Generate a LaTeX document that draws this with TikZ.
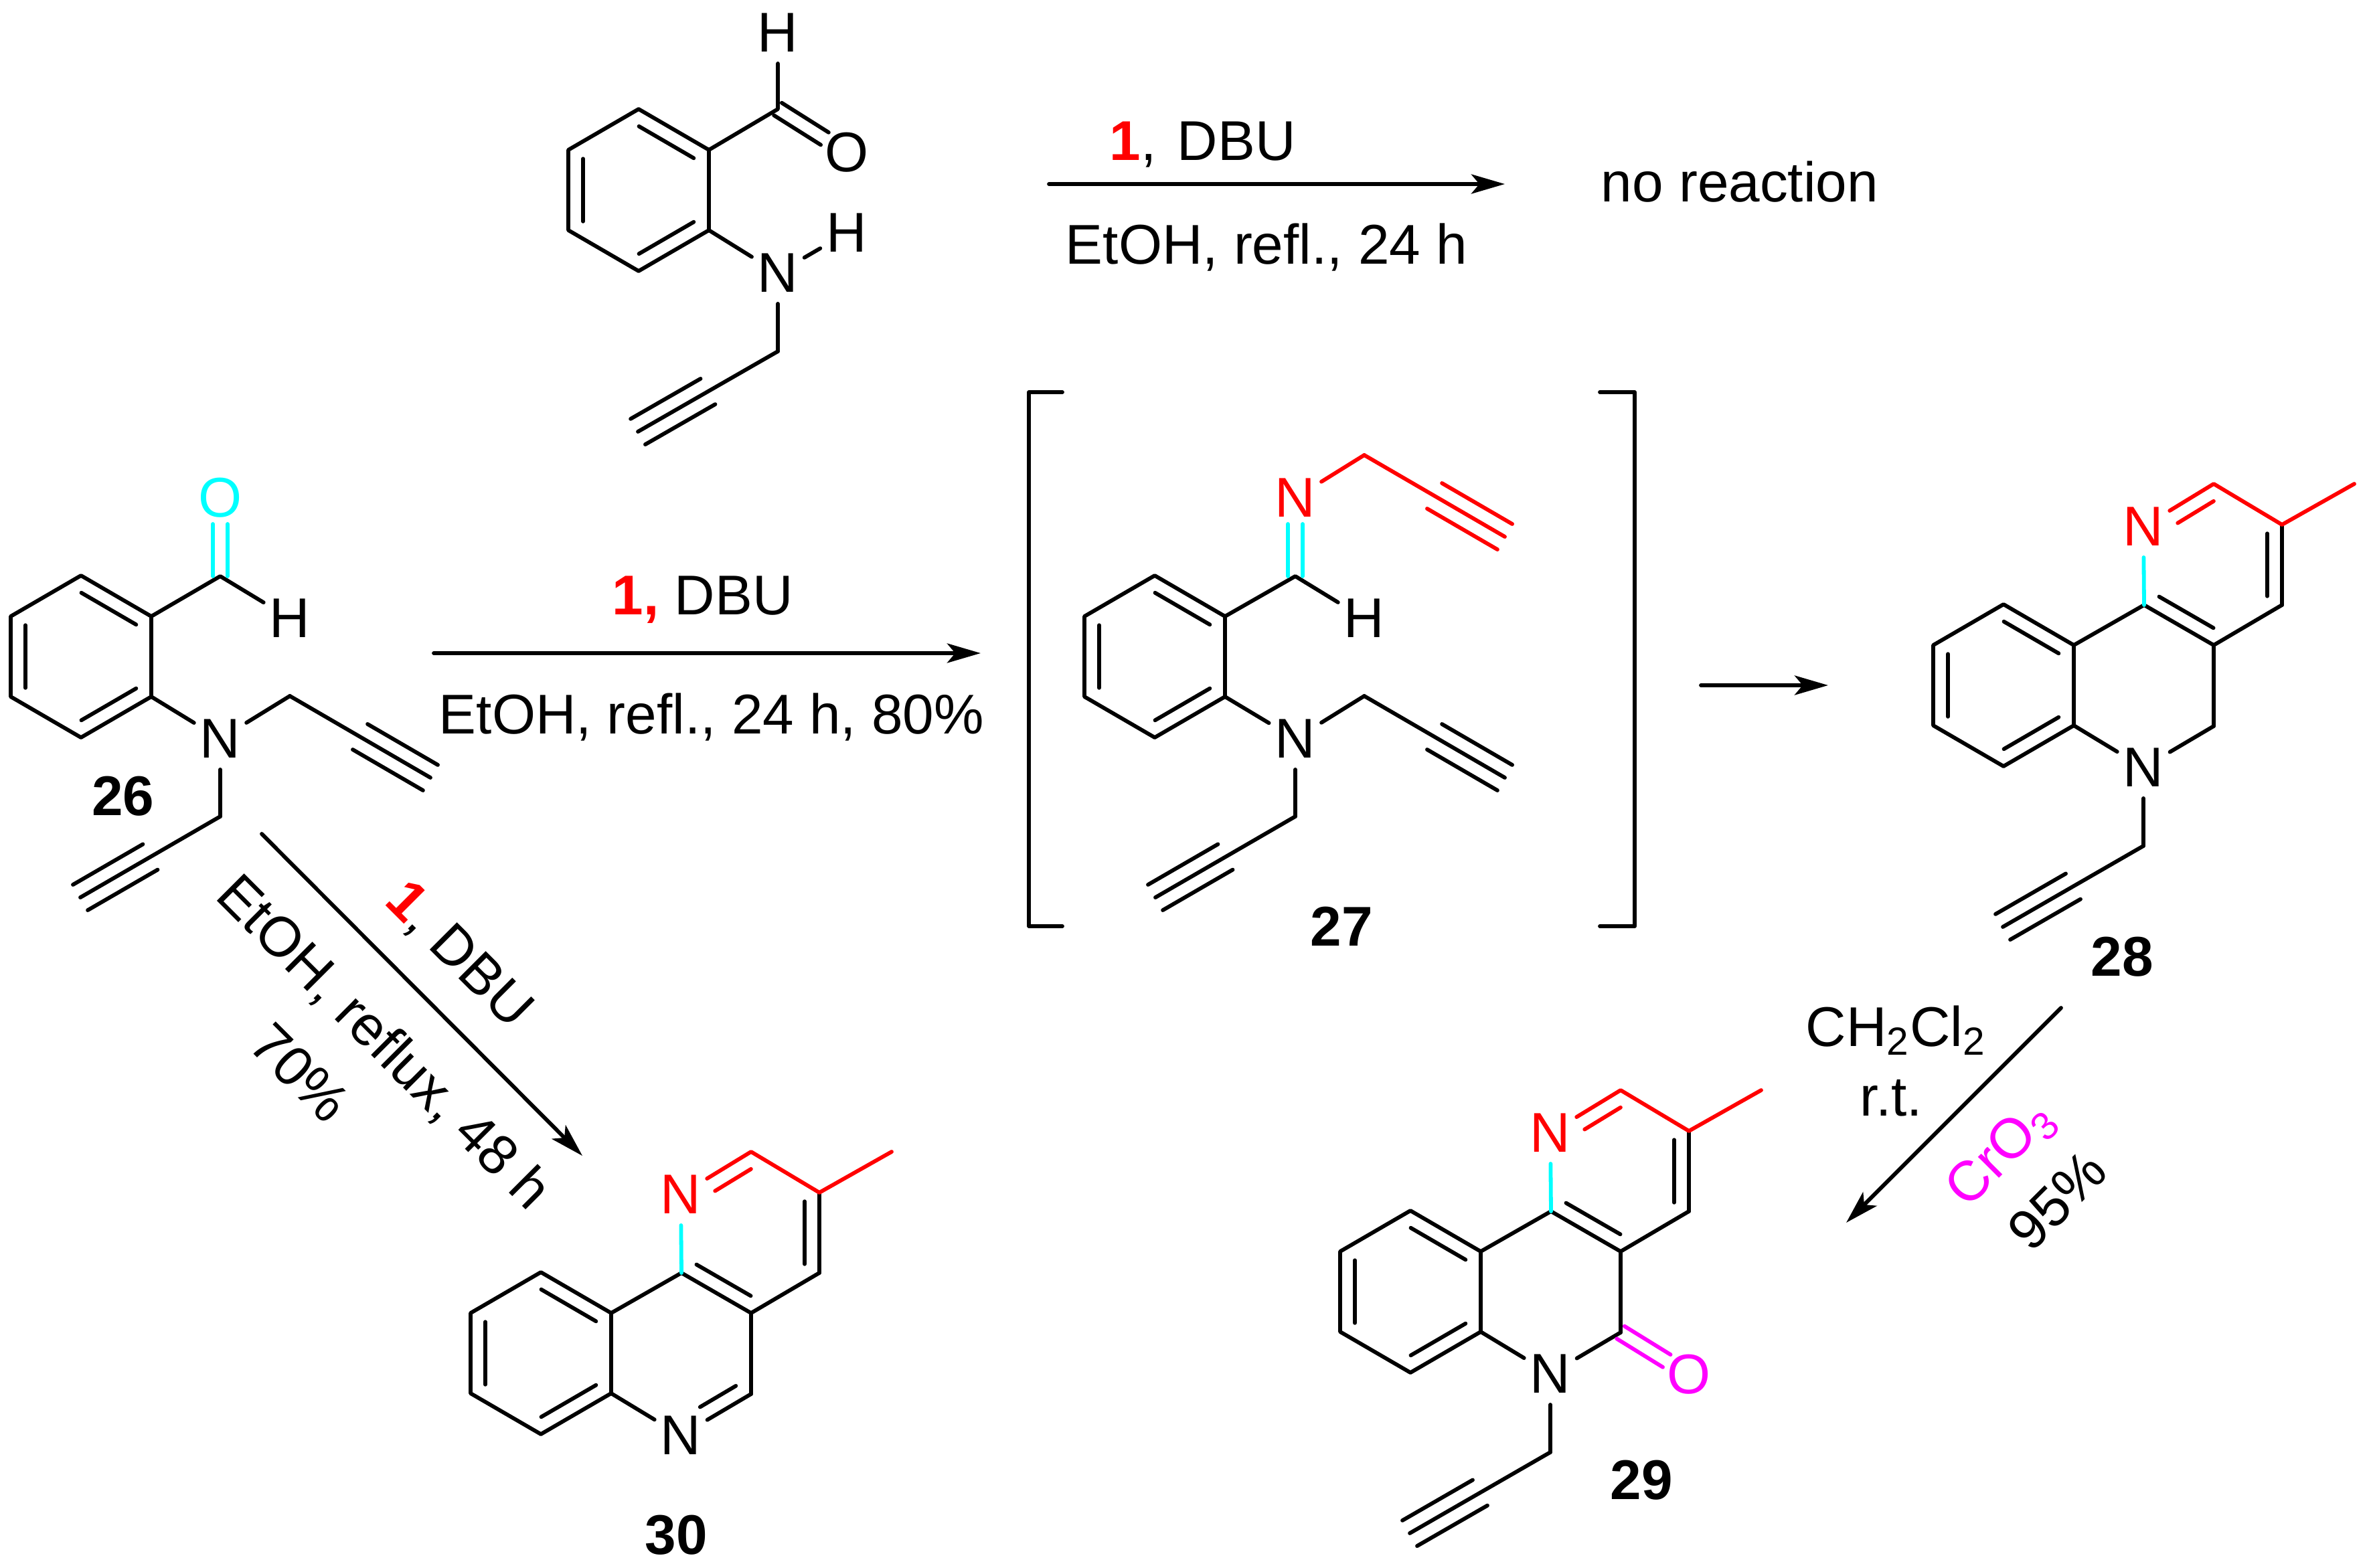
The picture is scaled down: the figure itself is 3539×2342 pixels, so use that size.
\documentclass[tikz,border=0pt]{standalone}
\usepackage{fontspec}
\setmainfont{Liberation Sans}
\usetikzlibrary{calc,arrows.meta}
\definecolor{pure}{rgb}{1,0,0}
\definecolor{aqua}{rgb}{0,1,1}
\definecolor{fuchsia}{rgb}{1,0,1}
\tikzstyle{atom} = [circle, inner sep=0pt, minimum size=.86cm]
\tikzstyle{rtext} = [inner sep=0pt, anchor=base west]
\tikzstyle{cpd} = [inner sep=0pt, font=\fontsize{23.8}{28}\selectfont\bfseries]
% second line of a double bond, on the left of a -> b
\newcommand{\innerbond}[3][]{\draw[#1] ($(#2)!.11!(#3)!.22cm!90:(#3)$) -- ($(#3)!.11!(#2)!.22cm!-90:(#2)$);}
% two equal lines, b is a labelled atom
\newcommand{\twobond}[3][]{\draw[shorten >=.39cm,#1] ($(#2)!.11cm!90:(#3)$) -- ($(#3)!.11cm!-90:(#2)$);
  \draw[shorten >=.39cm,#1] ($(#2)!.11cm!-90:(#3)$) -- ($(#3)!.11cm!90:(#2)$);}
\newcommand{\triplebond}[3][]{\draw[#1] (#2) -- (#3);
  \draw[#1] ($(#2)!.5!(#3)!.22cm!90:(#3)$) -- ($(#3)!.22cm!-90:(#2)$);
  \draw[#1] ($(#2)!.5!(#3)!.22cm!-90:(#3)$) -- ($(#3)!.22cm!90:(#2)$);}
% benzene ring round the origin of the scope
\newcommand{\benzoring}{
  \coordinate (r1) at (0,-121);
  \coordinate (r2) at (105,-60);
  \coordinate (r3) at (105,60);
  \coordinate (r4) at (0,121);
  \coordinate (r5) at (-105,60);
  \coordinate (r6) at (-105,-60);
  \draw (r1) -- (r2) -- (r3) -- (r4) -- (r5) -- (r6) -- cycle;
  \innerbond{r2}{r1}
  \innerbond{r4}{r3}
  \innerbond{r6}{r5}
}
% pyridine ring fused on the ring above
\newcommand{\pyridinering}{
  \benzoring
  \coordinate (c1) at (210,-120);
  \coordinate (c2) at (314,-60);
  \coordinate (c3) at (416,-120);
  \coordinate (c4) at (416,-240);
  \coordinate (c5) at (314,-301);
  \coordinate (me) at (524,-301);
  \coordinate (c6) at (314,61);
  \node[atom, text=pure] (n1) at (209,-237) {N};
  \node[atom] (n2) at (209,123) {N};
  \draw (r2) -- (c1);
  \draw (c1) -- (c2) -- (c3);
  \draw (c2) -- (c6);
  \draw (r3) -- (n2);
  \draw (c3) -- (c4);
  \draw[aqua] (c1) -- (n1);
  \draw[pure] (n1) -- (c5) -- (c4) -- (me);
  \innerbond{c1}{c2}
  \innerbond{c3}{c4}
  \innerbond[pure,shorten >=.33cm]{c5}{n1}
}
\begin{document}
\begin{tikzpicture}[x=.01cm, y=-.01cm, line width=.058cm, line cap=round, line join=round,
    font=\fontsize{23.8}{28}\selectfont, >={Stealth[length=.5cm,width=.29cm,inset=.12cm]}]
\useasboundingbox (0,0) rectangle (3539,2342);

% top aldehyde
\begin{scope}[shift={(954,284)}, name prefix=top-]
  \benzoring
  \coordinate (cho) at (208,-121);
  \coordinate (ch2) at (208,241);
  \coordinate (end) at (-1,361);
  \node[atom] (h1) at (208,-235) {H};
  \node[atom] (o) at (311,-56) {O};
  \node[atom] (n) at (208,124) {N};
  \node[atom] (h2) at (311,64) {H};
  \draw (r2) -- (cho) -- (h1);
  \twobond{cho}{o}
  \draw (r3) -- (n) -- (h2);
  \draw (n) -- (ch2);
  \triplebond{ch2}{end}
\end{scope}

% 26
\begin{scope}[shift={(121,981)}, name prefix=a-]
  \benzoring
  \coordinate (cho) at (208,-120);
  \coordinate (ch2a) at (312,59);
  \coordinate (enda) at (522,181);
  \coordinate (ch2b) at (208,239);
  \coordinate (endb) at (-1,360);
  \node[atom, text=aqua] (o) at (208,-237) {O};
  \node[atom] (h) at (312,-57) {H};
  \node[atom] (n) at (208,123) {N};
  \draw (r2) -- (cho) -- (h);
  \twobond[aqua]{cho}{o}
  \draw (r3) -- (n) -- (ch2a);
  \draw (n) -- (ch2b);
  \triplebond{ch2a}{enda}
  \triplebond{ch2b}{endb}
\end{scope}

% 27
\begin{scope}[shift={(1725,981)}, name prefix=b-]
  \benzoring
  \coordinate (cho) at (210,-120);
  \coordinate (ch2a) at (313,59);
  \coordinate (enda) at (523,181);
  \coordinate (ch2b) at (210,239);
  \coordinate (endb) at (1,360);
  \coordinate (ch2c) at (313,-301);
  \coordinate (endc) at (523,-179);
  \node[atom, text=pure] (imine) at (210,-237) {N};
  \node[atom] (h) at (313,-57) {H};
  \node[atom] (n) at (210,123) {N};
  \draw (r2) -- (cho) -- (h);
  \twobond[aqua]{cho}{imine}
  \draw[pure] (imine) -- (ch2c);
  \draw (r3) -- (n) -- (ch2a);
  \draw (n) -- (ch2b);
  \triplebond{ch2a}{enda}
  \triplebond{ch2b}{endb}
  \triplebond[pure]{ch2c}{endc}
\end{scope}

% 28
\begin{scope}[shift={(2993,1024)}, name prefix=c-]
  \pyridinering
  \coordinate (ch2) at (314,61);
  \coordinate (prop) at (209,240);
  \coordinate (end) at (-1,361);
  \draw (n2) -- (ch2);
  \draw (n2) -- (prop);
  \triplebond{prop}{end}
\end{scope}

% 29
\begin{scope}[shift={(2107,1930)}, name prefix=d-]
  \pyridinering
  \coordinate (prop) at (209,240);
  \coordinate (end) at (-1,361);
  \node[atom, text=fuchsia] (o) at (416,124) {O};
  \draw (n2) -- (c6);
  \draw (n2) -- (prop);
  \triplebond{prop}{end}
  \twobond[fuchsia]{c6}{o}
\end{scope}

% 30
\begin{scope}[shift={(808,2022)}, name prefix=e-]
  \pyridinering
  \draw (n2) -- (c6);
  \innerbond[shorten <=.33cm]{n2}{c6}
\end{scope}

\foreach \n/\x/\y in {26/184/1190, 27/2004/1384, 28/3170/1430, 29/2452/2212, 30/1010/2294}
  \node[cpd] (cpd\n) at (\x,\y) {\n};

% brackets
\draw (1587,586) -- (1537,586) -- (1537,1384) -- (1587,1384);
\draw (2390,586) -- (2442,586) -- (2442,1384) -- (2390,1384);

% arrows
\coordinate (s1) at (1567,275);
\coordinate (t1) at (2248,275);
\coordinate (s2) at (648,976);
\coordinate (t2) at (1465,976);
\coordinate (s3) at (2541,1024);
\coordinate (t3) at (2731,1024);
\coordinate (s4) at (391,1246);
\coordinate (t4) at (870,1727);
\coordinate (s5) at (3079,1506);
\coordinate (t5) at (2758,1827);
\foreach \i in {1,...,5}
  \draw[->] (s\i) -- (t\i);

\node[rtext] (dbutop) at (1655,239) {\textcolor{pure}{\textbf{1}},\hspace{.08cm} DBU};
\node[rtext] (etohtop) at (1589,394) {EtOH, refl., 24 h};
\node[rtext] (noreact) at (2389,301) {no reaction};
\node[rtext] (dbumid) at (912,918) {\textcolor{pure}{\textbf{1,}} DBU};
\node[rtext] (etohmid) at (653,1096) {EtOH, refl., 24 h, 80\%};
\node[inner sep=0pt, rotate=-45] (dbulow) at (684,1428) {\textcolor{pure}{\textbf{1}}, DBU};
\node[inner sep=0pt, rotate=-45] (etohlow) at (572,1559) {EtOH, reflux, 48 h};
\node[inner sep=0pt, rotate=-45] (yield) at (448,1603) {70\%};
\node[rtext] (dcm) at (2695,1563) {CH\textsubscript{2}Cl\textsubscript{2}};
\node[rtext] (rt) at (2776,1667) {r.t.};
\node[inner sep=0pt, rotate=45, text=fuchsia] (cro) at (2990,1725) {CrO\textsubscript{3}};
\node[inner sep=0pt, rotate=45] (yieldb) at (3073,1794) {95\%};
\end{tikzpicture}
\end{document}
